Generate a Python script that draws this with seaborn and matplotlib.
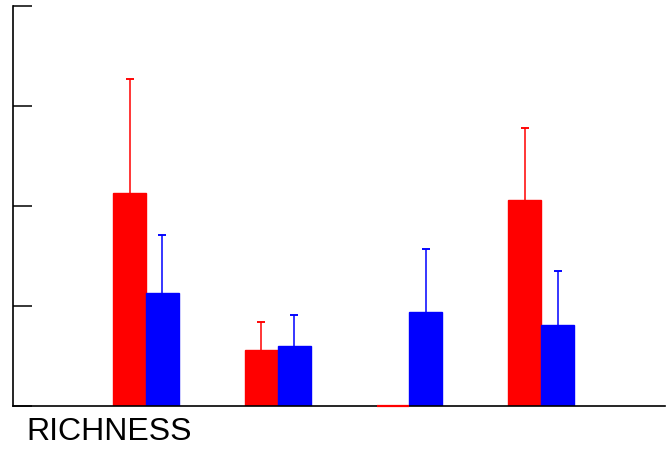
import matplotlib
matplotlib.use("Agg")
import matplotlib.pyplot as plt
import seaborn as sns
import pandas as pd

groups = ["1", "2", "3", "4"]
series = ["A", "B"]
values_a = [2.13, 0.56, 0.0, 2.06]
values_b = [1.13, 0.60, 0.94, 0.81]
err_a = [1.14, 0.28, 0.0, 0.72]
err_b = [0.58, 0.31, 0.63, 0.54]
colors = ["#ff0000", "#0000ff"]
yticks = [0, 1, 2, 3, 4]
label = "RICHNESS"

df = pd.DataFrame({
    "group": groups * 2,
    "series": [series[0]] * 4 + [series[1]] * 4,
    "value": values_a + values_b,
})

sns.set_style("white")
plt.rcParams["font.family"] = ["Liberation Sans", "DejaVu Sans"]

fig = plt.figure(figsize=(6.66, 4.52), dpi=100)
ax = fig.add_axes([13 / 666, 45 / 452, (665 - 13) / 666, 400 / 452])

sns.barplot(data=df, x="group", y="value", hue="series", palette=colors,
            width=0.5, errorbar=None, ax=ax, legend=False,
            linewidth=1, saturation=1)
for patch in ax.patches:
    patch.set_edgecolor(patch.get_facecolor())
    if patch.get_height() == 0:
        patch.set_zorder(3)
        patch.set_linewidth(1.6)
        patch.set_clip_on(False)

for cont, errs, col in zip(ax.containers, [err_a, err_b], colors):
    xs = [p.get_x() + p.get_width() / 2 for p in cont.patches]
    hs = [p.get_height() for p in cont.patches]
    for x, h, e in zip(xs, hs, errs):
        if e > 0:
            ax.errorbar([x], [h + e / 2], yerr=[[e / 2], [e / 2]], fmt="none",
                        ecolor=col, elinewidth=1.1, capsize=0)
            ax.errorbar([x], [h + e], yerr=[[0], [0]], fmt="none",
                        ecolor=col, elinewidth=1.1, capsize=2.8, capthick=1.1)

ax.set_xlim(-1.01, 3.94)
ax.set_ylim(0, 4)
ax.set_yticks(yticks)
ax.set_yticklabels([])
ax.set_xticks([])
ax.set_xlabel("")
ax.set_ylabel("")
ax.tick_params(axis="y", direction="in", length=14, width=1.1, color="black", left=True)
for s in ["top", "right"]:
    ax.spines[s].set_visible(False)
for s in ["left", "bottom"]:
    ax.spines[s].set_color("black")
    ax.spines[s].set_linewidth(1.2)

fig.text(26 / 666, 1 - 432 / 452, label, fontsize=23, ha="left", va="center",
         color="black")

fig.savefig("out.png", dpi=100)
